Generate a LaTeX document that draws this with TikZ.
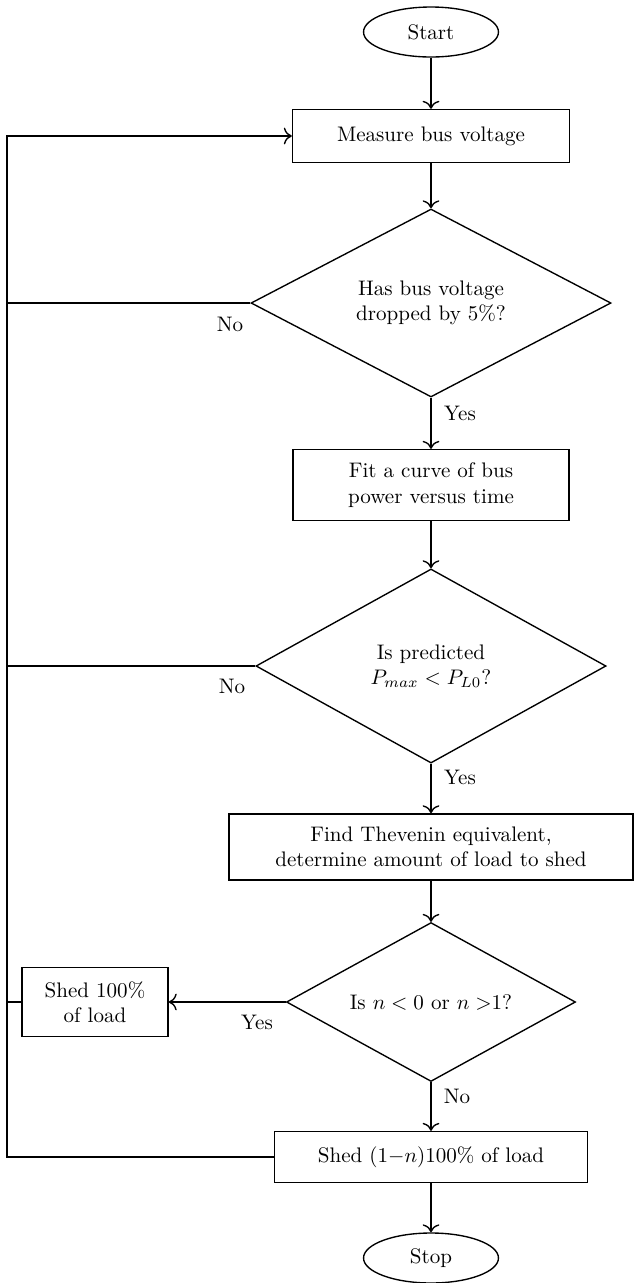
\documentclass[tikz,border=0pt]{standalone}
\usetikzlibrary{shapes.geometric,arrows.meta}
\begin{document}
\begin{tikzpicture}[x=0.475pt,y=-0.475pt,line width=0.65pt,>={To[scale=1.25]},
  term/.style={draw,ellipse,inner sep=0pt,minimum width=64.1pt,minimum height=23.75pt},
  procbox/.style={draw,rectangle,align=center,inner sep=0pt},
  decision/.style={draw,diamond,aspect=2,inner sep=0pt,align=center},
  lbl/.style={inner sep=0pt}]
\useasboundingbox (0,0) rectangle (633,1283);
\node[term] (start) at (431,32) {Start};
\node[procbox,minimum width=131.6pt,minimum height=25.2pt] (measure) at (431,136) {Measure bus voltage};
\node[decision,minimum width=171pt,minimum height=89.3pt] (d1) at (431,303) {Has bus voltage\\dropped by 5\%?};
\node[procbox,minimum width=131.1pt,minimum height=33.7pt] (fit) at (431,485) {Fit a curve of bus\\power versus time};
\node[decision,minimum width=166.3pt,minimum height=92.2pt] (d2) at (431,666) {Is predicted\\$P_{max} < P_{L0}$?};
\node[procbox,minimum width=191.9pt,minimum height=31.4pt] (thev) at (431,847) {Find Thevenin equivalent,\\determine amount of load to shed};
\node[decision,minimum width=137.3pt,minimum height=75.5pt] (d3) at (431,1002) {Is $n<0$ or $n>$1?};
\node[procbox,minimum width=69.4pt,minimum height=32.8pt] (shedall) at (95,1002) {Shed 100\%\\of load};
\node[procbox,minimum width=148.7pt,minimum height=24.2pt] (shedpart) at (431,1157) {Shed $(1{-}n)$100\% of load};
\node[term] (stop) at (431,1258) {Stop};
\coordinate (L) at (7,0);
\node[lbl] (no1) at (230,324) {No};
\node[lbl] (yes1) at (460,413) {Yes};
\node[lbl] (no2) at (232,686) {No};
\node[lbl] (yes2) at (460,777) {Yes};
\node[lbl] (yes3) at (257,1022) {Yes};
\node[lbl] (no3) at (457,1096) {No};
\draw[->] (start) -- (measure);
\draw[->] (measure) -- (d1);
\draw[->] (d1) -- (fit);
\draw[->] (fit) -- (d2);
\draw[->] (d2) -- (thev);
\draw[->] (thev) -- (d3);
\draw[->] (d3) -- (shedpart);
\draw[->] (shedpart) -- (stop);
\draw[->] (d3.west) -- (shedall.east);
\draw[->] (shedpart.west) -- (shedpart.west -| L) |- (measure.west);
\draw (d1.west) -- (d1.west -| L);
\draw (d2.west) -- (d2.west -| L);
\draw (shedall.west) -- (shedall.west -| L);
\end{tikzpicture}
\end{document}
